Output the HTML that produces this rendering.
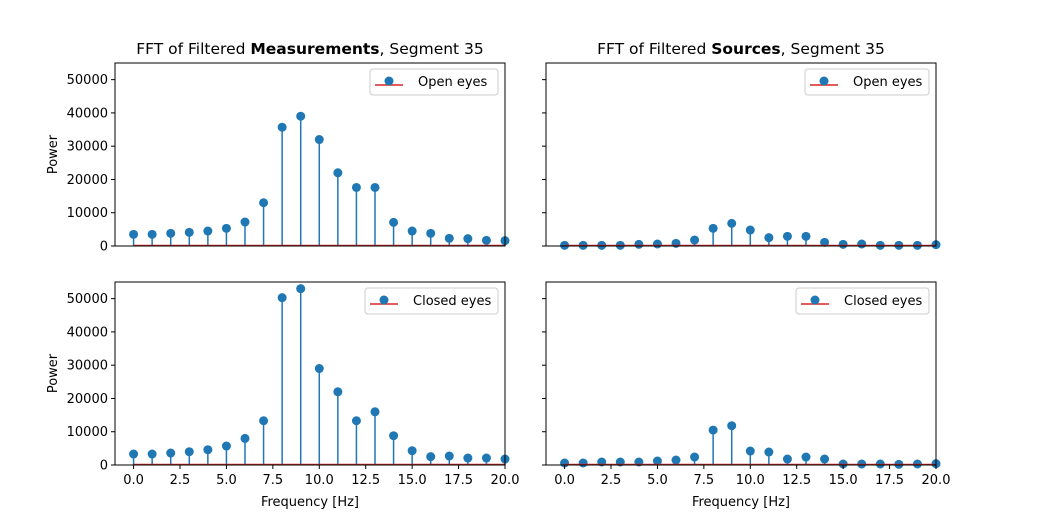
<!DOCTYPE html>
<html><head><meta charset="utf-8"><style>
body{margin:0;background:#fff;}
svg{font-family:"DejaVu Sans","Liberation Sans",sans-serif;}
</style></head><body>
<svg id="chart" width="1041" height="523"></svg>
<script>
const freqs=[0,1,2,3,4,5,6,7,8,9,10,11,12,13,14,15,16,17,18,19,20];
const measOpen=[3500,3500,3800,4100,4500,5300,7200,13000,35700,39000,32000,22000,17600,17600,7100,4500,3800,2300,2200,1700,1600];
const measClosed=[3300,3300,3600,4000,4600,5700,8000,13300,50300,53000,29000,22000,13300,16000,8800,4300,2500,2700,2100,2100,1800];
const srcOpen=[200,200,200,200,500,600,800,1800,5300,6800,4800,2500,2900,2900,1100,500,600,200,200,200,400];
const srcClosed=[600,600,900,900,900,1200,1500,2400,10500,11800,4200,3900,1800,2400,1800,300,300,300,200,300,400];
const yTicks=[0,10000,20000,30000,40000,50000];
const xTicks=[0,2.5,5,7.5,10,12.5,15,17.5,20];
const xTickLabels=["0.0","2.5","5.0","7.5","10.0","12.5","15.0","17.5","20.0"];
const NS="http://www.w3.org/2000/svg";
const svg=document.getElementById('chart');
function mk(tag,attrs,parent,text){const e=document.createElementNS(NS,tag);for(const k in attrs)e.setAttribute(k,attrs[k]);if(text!==undefined)e.textContent=text;(parent||svg).appendChild(e);return e;}
const panels=[
 {x0:115,y0:63,data:measOpen,label:"Open eyes",yl:true,xl:false,name:"measurements-open",lw:128},
 {x0:546,y0:63,data:srcOpen,label:"Open eyes",yl:false,xl:false,name:"sources-open",lw:124},
 {x0:115,y0:282,data:measClosed,label:"Closed eyes",yl:true,xl:true,name:"measurements-closed",lw:133},
 {x0:546,y0:282,data:srcClosed,label:"Closed eyes",yl:false,xl:true,name:"sources-closed",lw:133}];
const W=390,H=183;
panels.forEach(p=>{
 const g=mk('g',{});
 
 
 const xs=v=>p.x0+(v+1)/21*W;
 const ys=v=>p.y0+H-v/55000*H;
 p.data.forEach((v,i)=>{
  const l=mk('line',{x1:xs(freqs[i]),x2:xs(freqs[i]),y1:ys(0),y2:ys(v),stroke:'#1f77b4','stroke-width':1.5},g);
  
  
  const c=mk('circle',{cx:xs(freqs[i]),cy:ys(v),r:4.5,fill:'#1f77b4'},g);
  
  
 });
 const bl=mk('line',{x1:xs(0),x2:xs(20),y1:ys(0)-0.5,y2:ys(0)-0.5,stroke:'#d62728','stroke-width':1.5},g);
 
 
 const fr=mk('rect',{x:p.x0,y:p.y0,width:W,height:H,fill:'none',stroke:'#000','stroke-width':1},g);
 
 
 yTicks.forEach(t=>{
  mk('line',{x1:p.x0-4,x2:p.x0,y1:ys(t),y2:ys(t),stroke:'#000'},g);
  if(p.yl){const tx=mk('text',{x:p.x0-7,y:ys(t)+4.5,'text-anchor':'end','font-size':13},g,String(t));
   }
 });
 if(p.xl){
 xTicks.forEach((t,i)=>{
  mk('line',{x1:xs(t),x2:xs(t),y1:p.y0+H,y2:p.y0+H+4,stroke:'#000'},g);
  const tx=mk('text',{x:xs(t),y:p.y0+H+19,'text-anchor':'middle','font-size':13},g,xTickLabels[i]);
  
 });}
 if(p.yl){const yt=mk('text',{x:0,y:0,transform:`translate(${p.x0-58},${p.y0+H/2}) rotate(-90)`,'text-anchor':'middle','font-size':13},g,'Power');
  }
 if(p.xl){const xt=mk('text',{x:p.x0+W/2,y:p.y0+H+41,'text-anchor':'middle','font-size':13},g,'Frequency [Hz]');
  }
 const lx=p.x0+W-7-p.lw, ly=p.y0+6;
 const lg=mk('g',{},g);
 
 
 mk('rect',{x:lx,y:ly,width:p.lw,height:26,rx:3,fill:'#fff',stroke:'#ccc'},lg);
 mk('line',{x1:lx+5,x2:lx+33,y1:ly+16,y2:ly+16,stroke:'#d62728','stroke-width':1.5},lg);
 mk('circle',{cx:lx+19,cy:ly+12,r:4.5,fill:'#1f77b4'},lg);
 const lt=mk('text',{x:lx+48,y:ly+17,'font-size':13},lg,p.label);
 
});
const t1=mk('text',{x:310,y:54,'text-anchor':'middle','font-size':15.5});
t1.innerHTML='FFT of Filtered <tspan font-weight="bold">Measurements</tspan>, Segment 35';

const t2=mk('text',{x:741,y:54,'text-anchor':'middle','font-size':15.5});
t2.innerHTML='FFT of Filtered <tspan font-weight="bold">Sources</tspan>, Segment 35';

</script>
</body></html>
